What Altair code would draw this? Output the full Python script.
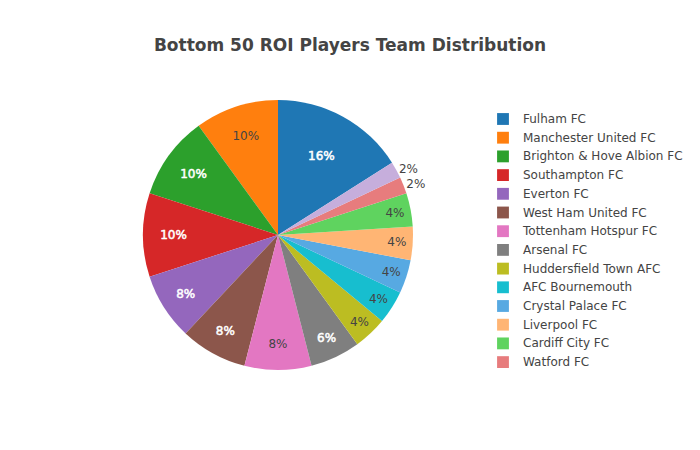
import altair as alt
import pandas as pd

teams = ["Fulham FC", "Manchester United FC", "Brighton & Hove Albion FC", "Southampton FC",
         "Everton FC", "West Ham United FC", "Tottenham Hotspur FC", "Arsenal FC",
         "Huddersfield Town AFC", "AFC Bournemouth", "Crystal Palace FC", "Liverpool FC",
         "Cardiff City FC", "Watford FC", "Newcastle United FC"]
counts = [8, 5, 5, 5, 4, 4, 4, 3, 2, 2, 2, 2, 2, 1, 1]
colors = ["#1f77b4", "#ff7f0e", "#2ca02c", "#d62728", "#9467bd", "#8c564b", "#e377c2",
          "#7f7f7f", "#bcbd22", "#17becf", "#57a9e2", "#ffb574", "#5fd35f", "#e77c7d", "#c6aedc"]
legend_teams = teams[:14]
light_text_teams = ["Fulham FC", "Brighton & Hove Albion FC", "Southampton FC", "Everton FC",
                    "West Ham United FC", "Arsenal FC"]

n = len(teams)
slot = [0] + [n - i for i in range(1, n)]
df = pd.DataFrame({"team": teams, "count": counts, "slot": slot})

FONT = "DejaVu Sans"
CX, CY = 270, 175
TWO_PI = 6.283185307179586
theta_scale = alt.Scale(domain=[0, 1], range=[0, TWO_PI])

base = alt.Chart(df).transform_stack(
    stack="count", groupby=[], as_=["s0", "s1"], sort=[alt.SortField("slot", order="ascending")]
).transform_joinaggregate(total="sum(count)").transform_calculate(
    f0="datum.s0 / datum.total",
    f1="datum.s1 / datum.total",
    fm="(datum.s0 + datum.s1) / 2 / datum.total",
    pct="datum.count / datum.total * 100",
    lbl="format(datum.count / datum.total * 100, '.0f') + '%'",
).encode(x=alt.value(CX), y=alt.value(CY))

arcs = base.mark_arc(outerRadius=135, strokeWidth=0).encode(
    theta=alt.Theta("f0:Q", scale=theta_scale),
    theta2="f1:Q",
    color=alt.Color("team:N", scale=alt.Scale(domain=teams, range=colors),
                    legend=alt.Legend(title=None, values=legend_teams, orient="none",
                                      legendX=489, legendY=53, symbolType="square",
                                      symbolSize=140, symbolStrokeWidth=0,
                                      labelFont=FONT, labelFontSize=12, labelColor="#444",
                                      labelOffset=14, rowPadding=6.7, labelLimit=300))
)

is_light = alt.FieldOneOfPredicate(field="team", oneOf=light_text_teams)

inside = base.transform_filter("datum.pct >= 3").mark_text(
    font=FONT, fontSize=12, baseline="middle", align="center"
).encode(
    theta=alt.Theta("fm:Q", scale=theta_scale),
    radius=alt.Radius("pct:Q", scale=alt.Scale(domain=[4, 16], range=[119, 90], zero=False)),
    text="lbl:N",
    color=alt.condition(is_light, alt.value("white"), alt.value("#444")),
    stroke=alt.condition(is_light, alt.value("white"), alt.value("transparent")),
    strokeWidth=alt.value(0.5),
)

outside = base.transform_filter("datum.pct < 3").mark_text(
    font=FONT, fontSize=12, baseline="middle", align="left", radius=138, color="#444"
).encode(
    theta=alt.Theta("fm:Q", scale=theta_scale),
    text="lbl:N",
)

chart = alt.layer(arcs, inside, outside).properties(
    width=684, height=382,
    title=alt.TitleParams("Bottom 50 ROI Players Team Distribution", anchor="middle",
                          font=FONT, fontSize=17, fontWeight="bold", color="#444", offset=5),
    autosize=alt.AutoSizeParams(type="none"),
    padding={"left": 0, "top": 52, "right": 0, "bottom": 0},
    background="white",
).configure_view(strokeWidth=0, stroke=None)

chart.save("out.html", embed_options={"renderer": "svg", "actions": False})
